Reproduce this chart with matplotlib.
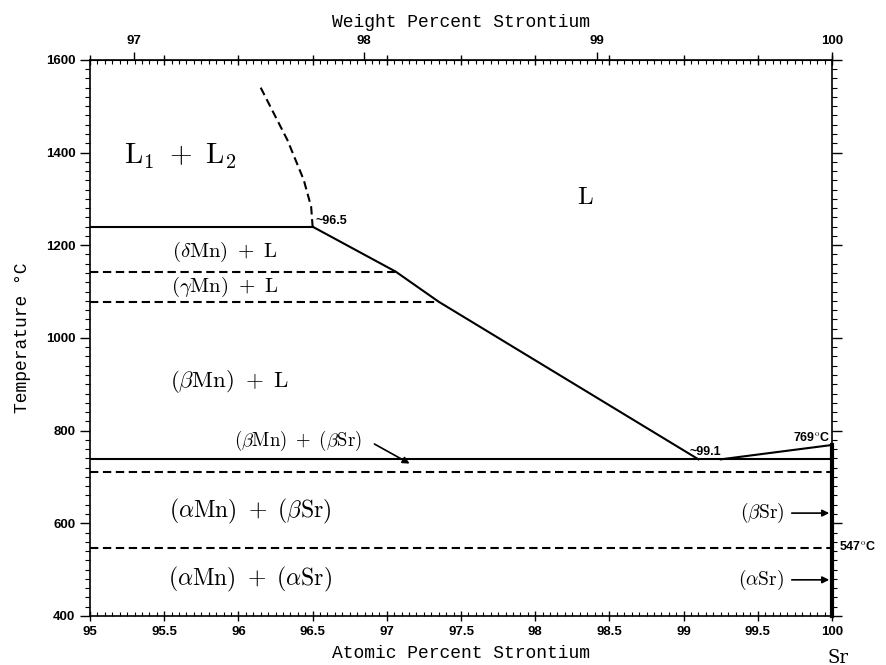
import numpy as np
import matplotlib
import matplotlib.pyplot as plt
from matplotlib.ticker import MultipleLocator, FixedLocator, FuncFormatter
from matplotlib.font_manager import FontProperties

matplotlib.use('agg')
plt.rcParams['mathtext.fontset'] = 'cm'

# molar masses for the weight percent axis
M_SR = 87.62
M_MN = 54.938

# phase boundaries (at.% Sr, degC)
miscibility_x = [96.15, 96.33, 96.44, 96.49, 96.5]
miscibility_t = [1540, 1427, 1341, 1283, 1240]
liquidus_x = [96.5, 97.06, 97.35, 99.1]
liquidus_t = [1240, 1143, 1078, 738]
sr_liquidus_x = [99.25, 100.0]
sr_liquidus_t = [738, 769]
monotectic_t = 1240
eutectic_t = 738
# dashed transformation lines: (temperature, end composition)
trans_t = [1143, 1078, 710, 547]
trans_end = [97.06, 97.35, 100.0, 100.0]
sr_melt = 769

wt_ticks = [97, 98, 99, 100]


def at_to_wt(a):
    a = np.asarray(a, dtype=float)
    return 100 * a * M_SR / (a * M_SR + (100 - a) * M_MN)


def wt_to_at(w):
    w = np.asarray(w, dtype=float)
    return 100 * (w / M_SR) / (w / M_SR + (100 - w) / M_MN)


fig = plt.figure(figsize=(8.87, 6.65), dpi=100)
ax = fig.add_axes([0.1015, 0.0737, 0.8365, 0.8363])

lw = 1.5
dash = (0, (4, 2.2))
ax.plot(miscibility_x, miscibility_t, color='k', lw=lw, ls=dash)
ax.plot(liquidus_x, liquidus_t, color='k', lw=lw)
ax.plot(sr_liquidus_x, sr_liquidus_t, color='k', lw=lw)
ax.plot([95, 96.5], [monotectic_t, monotectic_t], color='k', lw=lw)
ax.plot([95, 100], [eutectic_t, eutectic_t], color='k', lw=lw)
for t, xe in zip(trans_t, trans_end):
    ax.plot([95, xe], [t, t], color='k', lw=lw, ls=dash)
ax.plot([100, 100], [400, sr_melt], color='k', lw=3, clip_on=False)

ax.set_xlim(95, 100)
ax.set_ylim(400, 1600)

ax.xaxis.set_major_locator(MultipleLocator(0.5))
ax.xaxis.set_minor_locator(MultipleLocator(0.05))
ax.yaxis.set_major_locator(MultipleLocator(200))
ax.yaxis.set_minor_locator(MultipleLocator(20))
ax.xaxis.set_major_formatter(FuncFormatter(lambda v, p: '%g' % v))

tick_font = {'family': 'Liberation Sans', 'weight': 'bold', 'size': 9.5}
ax.tick_params(axis='x', which='major', direction='inout', length=7, width=1,
               top=True, labeltop=False, pad=4)
ax.tick_params(axis='x', which='minor', direction='in', length=3, width=0.8, top=True)
ax.tick_params(axis='y', which='major', direction='out', length=7, width=1, right=True)
ax.tick_params(axis='y', which='minor', direction='out', length=3.5, width=0.8, right=True)
for lab in ax.get_xticklabels() + ax.get_yticklabels():
    lab.set_fontproperties(FontProperties(**tick_font))
for sp in ax.spines.values():
    sp.set_linewidth(1.2)

sec = ax.secondary_xaxis('top', functions=(at_to_wt, wt_to_at))
sec.xaxis.set_major_locator(FixedLocator(wt_ticks))
sec.tick_params(direction='out', length=6, width=1, pad=3)
sec.xaxis.set_major_formatter(FuncFormatter(lambda v, p: '%g' % v))
for lab in sec.get_xticklabels():
    lab.set_fontproperties(FontProperties(**tick_font))

mono = 'Liberation Mono'
ax.set_xlabel('Atomic Percent Strontium', family=mono, fontsize=13, labelpad=5)
ax.set_ylabel('Temperature \u00b0C', family=mono, fontsize=13, labelpad=11)
sec.set_xlabel('Weight Percent Strontium', family=mono, fontsize=13, labelpad=6)

# phase field labels
ax.text(95.61, 1391, r'$\mathrm{L_1\ +\ L_2}$', fontsize=21, ha='center', va='center')
ax.text(98.34, 1304, r'$\mathrm{L}$', fontsize=18, ha='center', va='center')
ax.text(95.91, 1186, r'$(\delta\mathrm{Mn})\ +\ \mathrm{L}$', fontsize=15, ha='center', va='center')
ax.text(95.91, 1110, r'$(\gamma\mathrm{Mn})\ +\ \mathrm{L}$', fontsize=15, ha='center', va='center')
ax.text(95.94, 907, r'$(\beta\mathrm{Mn})\ +\ \mathrm{L}$', fontsize=16.5, ha='center', va='center')
ax.text(96.40, 778, r'$(\beta\mathrm{Mn})\ +\ (\beta\mathrm{Sr})$', fontsize=13.5, ha='center', va='center')
ax.text(96.08, 625, r'$(\alpha\mathrm{Mn})\ +\ (\beta\mathrm{Sr})$', fontsize=17, ha='center', va='center')
ax.text(96.08, 478, r'$(\alpha\mathrm{Mn})\ +\ (\alpha\mathrm{Sr})$', fontsize=17, ha='center', va='center')

ax.annotate('', xy=(97.17, 726), xytext=(96.9, 774),
            arrowprops=dict(arrowstyle='-|>', color='k', lw=1.2, mutation_scale=10))

# right side Sr phases
ax.text(99.68, 622, r'$(\beta\mathrm{Sr})$', fontsize=14, ha='right', va='center')
ax.text(99.68, 478, r'$(\alpha\mathrm{Sr})$', fontsize=14, ha='right', va='center')
for t in [622, 478]:
    ax.annotate('', xy=(100, t), xytext=(99.71, t),
                arrowprops=dict(arrowstyle='-|>', color='k', lw=1.2, mutation_scale=10))

small = {'family': 'Liberation Sans', 'weight': 'bold', 'size': 9}
ax.text(96.52, 1252, '~96.5', ha='left', va='center', **small)
ax.text(99.04, 753, '~99.1', ha='left', va='center', **small)
ax.text(99.99, 786, r'769$^\mathrm{o}$C', ha='right', va='center', **small)
ax.text(100.05, 549, r'547$^\mathrm{o}$C', ha='left', va='center', **small)
ax.text(100.04, 310, 'Sr', fontsize=13, family='DejaVu Serif', ha='center', va='center')

fig.savefig('out.png', dpi=100)
